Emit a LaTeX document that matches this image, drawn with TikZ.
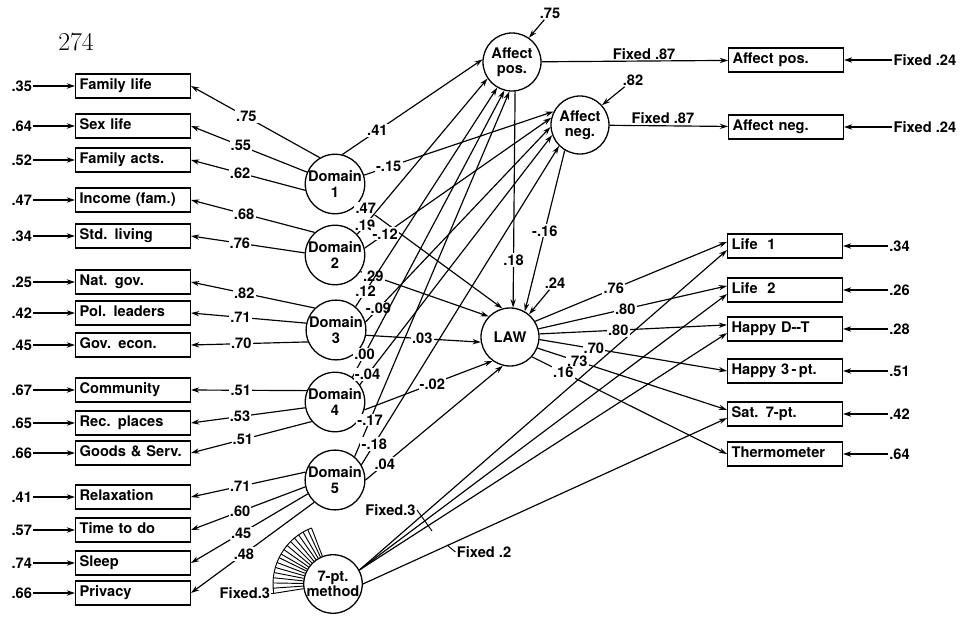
\documentclass[tikz,border=0pt]{standalone}
\usepackage{fontspec}
\newfontfamily\lettering{TeX Gyre Heros}
\newcommand{\labfont}{\lettering\bfseries\fontsize{12.5}{13}\selectfont}
\usetikzlibrary{positioning, calc, arrows.meta}
\tikzset{
  ind/.style={
    rectangle, draw=black, line width=1.1pt,
    text width=3.2cm, inner xsep=0.12cm, align=left,
    minimum height=0.72cm,
    text height=1.9ex,
    text depth=0.5ex,
    font=\labfont
  },
  lat/.style={
    circle, draw=black, line width=1.1pt, inner sep=0pt,
    minimum size=1.74cm, align=center, font=\labfont
  },
  coef/.style={fill=white, inner sep=1pt, font=\labfont},
  eff/.style={-{Stealth[length=7pt, width=4.5pt]}, line width=1pt},
  fanline/.style={line width=0.8pt}
}

\begin{document}
\begin{tikzpicture}[x=0.03cm, y=-0.03cm]
  \useasboundingbox (0,0) rectangle (970,619);
  \node[font=\fontsize{22}{24}\selectfont] (pg) at (76,42) {274};

  % indicators of the domains
  \node[ind] (famlife) at (133,86) {Family life};
  \node[ind] (sexlife) at (133,126) {Sex life};
  \node[ind] (famacts) at (133,160) {Family acts.};
  \node[ind] (income) at (133,200) {Income (fam.)};
  \node[ind] (stdliv) at (133,236) {Std. living};
  \node[ind] (natgov) at (133,282) {Nat. gov.};
  \node[ind] (polldr) at (133,313) {Pol. leaders};
  \node[ind] (govecon) at (133,345) {Gov. econ.};
  \node[ind] (commun) at (133,390) {Community};
  \node[ind] (recpl) at (133,423) {Rec. places};
  \node[ind] (goods) at (133,453) {Goods \& Serv.};
  \node[ind] (relax) at (133,497) {Relaxation};
  \node[ind] (timedo) at (133,530) {Time to do};
  \node[ind] (sleep) at (133,563) {Sleep};
  \node[ind] (privacy) at (133,593) {Privacy};

  \foreach \n/\v in {famlife/.35, sexlife/.64, famacts/.52, income/.47, stdliv/.34,
                     natgov/.25, polldr/.42, govecon/.45, commun/.67, recpl/.65,
                     goods/.66, relax/.41, timedo/.57, sleep/.74, privacy/.66} {
    \node[coef, left=1.25cm of \n] (e-\n) {\v};
    \draw[eff] (e-\n) -- (\n);
  }

  % latent variables
  \node[lat] (d1) at (335,184) {Domain\\1};
  \node[lat] (d2) at (335,255) {Domain\\2};
  \node[lat] (d3) at (336,330) {Domain\\3};
  \node[lat] (d4) at (335,402) {Domain\\4};
  \node[lat] (d5) at (335,480) {Domain\\5};
  \node[lat] (mth) at (333,584) {7-pt.\\method};
  \node[lat] (ap) at (512,62) {Affect\\pos.};
  \node[lat] (an) at (580,125) {Affect\\neg.};
  \node[lat] (law) at (510,337) {LAW};

  % indicators on the right
  \node[ind] (apos) at (786,60) {Affect pos.};
  \node[ind] (aneg) at (786,127) {Affect neg.};
  \node[ind] (life1) at (785,246) {Life\ \ 1};
  \node[ind] (life2) at (785,290) {Life\ \ 2};
  \node[ind] (hdt) at (785,329) {Happy D--T};
  \node[ind] (h3) at (785,371) {Happy 3\,-\,pt.};
  \node[ind] (sat) at (785,414) {Sat. 7-pt.};
  \node[ind] (therm) at (785,454) {Thermometer};

  \foreach \n/\v in {apos/Fixed .24, aneg/Fixed .24} {
    \node[coef, right=1.45cm of \n] (f-\n) {\v};
    \draw[eff] (f-\n) -- (\n);
  }
  \foreach \n/\v in {life1/.34, life2/.26, hdt/.28, h3/.51, sat/.42, therm/.64} {
    \node[coef, right=1.35cm of \n] (f-\n) {\v};
    \draw[eff] (f-\n) -- (\n);
  }

  % loadings
  \draw[eff] (d1.120) -- (famlife.east) node[coef, pos=.57] {.75};
  \draw[eff] (d1.157) -- (sexlife.east) node[coef, pos=.57] {.55};
  \draw[eff] (d1.192) -- (famacts.east) node[coef, pos=.57] {.62};
  \draw[eff] (d2.132) -- (income.east) node[coef, pos=.57] {.68};
  \draw[eff] (d2.176) -- (stdliv.east) node[coef, pos=.57] {.76};
  \draw[eff] (d3.134) -- (natgov.east) node[coef, pos=.57] {.82};
  \draw[eff] (d3.167) -- (polldr.east) node[coef, pos=.57] {.71};
  \draw[eff] (d3.203) -- (govecon.east) node[coef, pos=.57] {.70};
  \draw[eff] (d4.158) -- (commun.east) node[coef, pos=.57] {.51};
  \draw[eff] (d4.191) -- (recpl.east) node[coef, pos=.57] {.53};
  \draw[eff] (d4.220) -- (goods.east) node[coef, pos=.57] {.51};
  \draw[eff] (d5.165) -- (relax.east) node[coef, pos=.57] {.71};
  \draw[eff] (d5.193) -- (timedo.east) node[coef, pos=.57] {.60};
  \draw[eff] (d5.207) -- (sleep.east) node[coef, pos=.57] {.45};
  \draw[eff] (d5.227) -- (privacy.east) node[coef, pos=.57] {.48};

  % method factor
  \foreach \i in {0,...,16} {
    \pgfmathsetmacro{\a}{111+\i*78/16}
    \draw[fanline] ($(mth.center)!1.8cm!(mth.\a)$) -- (mth.\a);
  }
  \draw[fanline] ($(mth.center)!1.8cm!(mth.111)$) arc[start angle=111, end angle=189, radius=1.8cm];
  \coordinate (fanend) at ($(mth.center)!1.8cm!(mth.189)$);
  \node[coef, anchor=east] (fx1) at ([xshift=-2pt]fanend) {Fixed.3};
  \draw[fanline] (fx1.east) -- (fanend);

  \draw[eff] (mth.28) -- ([yshift=-3.5pt]life1.west);
  \draw[eff] (mth.28) -- ([yshift=-3.5pt]life2.west);
  \draw[eff] (mth.28) -- ([yshift=-3.5pt]hdt.west);
  \draw[eff] (mth.0) -- ([yshift=-3.5pt]sat.west);
  \node[coef, anchor=east, fill=none] (fx3) at (417,510) {Fixed.3};
  \coordinate (tk3) at (432,531);
  \draw[fanline] (fx3.east) -- (tk3);
  \node[coef, fill=none] (fx2) at (484,552) {Fixed .2};
  \coordinate (hk2) at (447,545);
  \draw[fanline] (fx2.west) -- (hk2);

  % structural paths
  \draw[eff] (d1.76) -- (ap.175) node[coef, pos=.25] {.41};
  \draw[eff] (d1.17) -- (an.153) node[coef, pos=.13] {-.15};
  \draw[eff] (d1.-39) -- (law.105) node[coef, pos=.05] {.47};
  \draw[eff] (d2.43) -- (ap.214) node[coef, pos=.06] {.19};
  \draw[eff] (d2.13) -- (an.166) node[coef, pos=.11] {-.12};
  \draw[eff] (d2.-33) -- (law.136) node[coef, pos=.1] {.29};
  \draw[eff] (d3.50) -- (ap.240) node[coef, pos=.07] {.12};
  \draw[eff] (d3.15) -- (an.184) node[coef, pos=.07] {-.09};
  \draw[eff] (d3.-10) -- (law.190) node[coef, pos=.49] {.03};
  \draw[eff] (d4.55) -- (ap.255) node[coef, pos=.08] {.00};
  \draw[eff] (d4.35) -- (an.200) node[coef, pos=.04] {-.04};
  \draw[eff] (d4.-15) -- (law.234) node[coef, pos=.53] {-.02};
  \draw[eff] (d5.50) -- (ap.265) node[coef, pos=.1] {-.17};
  \draw[eff] (d5.30) -- (an.225) node[coef, pos=.065] {-.18};
  \draw[eff] (d5.0) -- (law.256) node[coef, pos=.14] {.04};

  \draw[eff] (ap.-84) -- (law.84) node[coef, pos=.78] {.18};
  \draw[eff] (an.239) -- (law.60) node[coef, pos=.5] {-.16};
  \node[coef] (e-law) at (555,283) {.24};
  \draw[eff] (e-law) -- (law.50);
  \node[coef] (e-ap) at (550,13) {.75};
  \draw[eff] (e-ap) -- (ap.55);
  \node[coef] (e-an) at (633,80) {.82};
  \draw[eff] (e-an) -- (an.42);

  \draw[eff] (ap) -- (apos) node[coef, pos=.55, above] {Fixed .87};
  \draw[eff] (an) -- (aneg) node[coef, pos=.45, above] {Fixed .87};

  % loadings of LAW
  \draw[eff] (law.32) -- ([yshift=3.5pt]life1.west) node[coef, pos=.41] {.76};
  \draw[eff] (law.16) -- ([yshift=3.5pt]life2.west) node[coef, pos=.46] {.80};
  \draw[eff] (law.6) -- ([yshift=3.5pt]hdt.west) node[coef, pos=.42] {.80};
  \draw[eff] (law.-5) -- (h3.west) node[coef, pos=.29] {.70};
  \draw[eff] (law.-22) -- ([yshift=3.5pt]sat.west) node[coef, pos=.21] {.73};
  \draw[eff] (law.-42) -- (therm.west) node[coef, pos=.16] {.16};
\end{tikzpicture}
\end{document}
